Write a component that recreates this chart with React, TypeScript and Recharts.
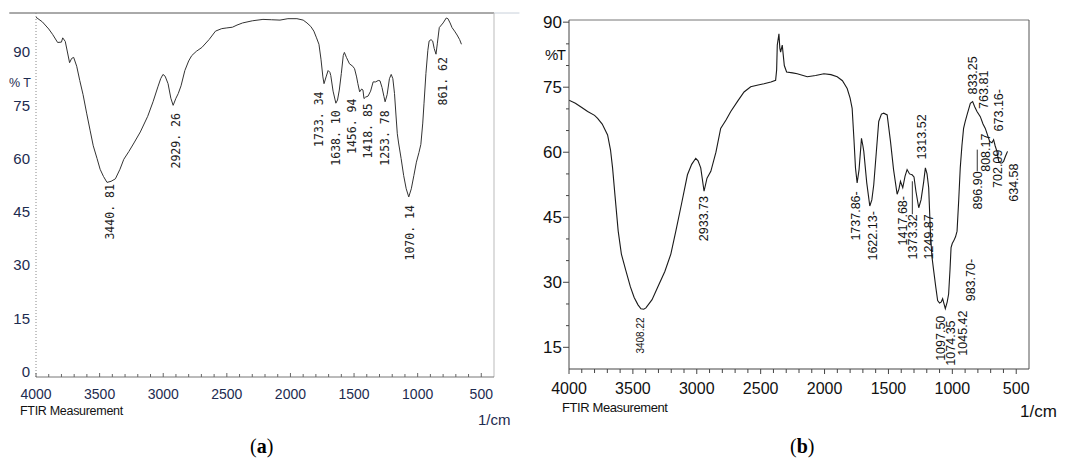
import { ComposedChart, Line, Scatter, XAxis, YAxis, ReferenceLine } from "recharts";

// ---------- spectrum (a) ----------
const waveA = [
  4000, 3950, 3900, 3870, 3830, 3800, 3790, 3770, 3736, 3720, 3704, 3680, 3656, 3630, 3602, 3575, 3550, 3520,
  3496, 3470, 3442, 3410, 3376, 3340, 3310, 3270, 3230, 3180, 3122, 3080, 3042, 3020, 3002, 2985, 2962, 2940,
  2922, 2900, 2882, 2860, 2830, 2800, 2776, 2740, 2696, 2640, 2589, 2540, 2500, 2456, 2420, 2376, 2300, 2216,
  2150, 2082, 2020, 1949, 1900, 1870, 1840, 1816, 1795, 1776, 1760, 1745, 1736, 1720, 1704, 1690, 1683, 1665,
  1643, 1630, 1616, 1600, 1585, 1576, 1560, 1536, 1510, 1496, 1480, 1470, 1456, 1440, 1430, 1422, 1410, 1390,
  1370, 1350, 1330, 1310, 1296, 1280, 1265, 1256, 1240, 1222, 1208, 1195, 1182, 1170, 1160, 1150, 1130, 1110,
  1090, 1070, 1050, 1030, 1010, 990, 975, 960, 950, 935, 920, 910, 895, 882, 870, 856, 845, 830, 800, 775, 762,
  745, 730, 710, 690, 670, 656,
];
const transA = [
  99.8, 98.5, 96.5, 95, 92.7, 92.8, 94, 93, 87, 88.2, 88.5, 86, 82, 78, 72.8, 68, 63.6, 60,
  57, 55, 53.3, 53.6, 54.3, 57, 59.8, 62, 64.4, 67.5, 71.9, 76, 80.2, 82.5, 83.7, 83.2, 81.1, 77,
  75, 77, 78.3, 80.5, 84.8, 87.5, 89, 90.2, 91.3, 93.5, 95.9, 96.6, 96.8, 97, 97.6, 98.2, 98.8, 99.2,
  99.1, 99, 99.4, 99.4, 99, 98.2, 97.2, 95.9, 94, 92.2, 88, 83, 81.1, 83, 84.8, 84.3, 83.4, 79,
  75.6, 76.5, 79.3, 84, 89, 89.9, 88.5, 86.7, 86, 85.3, 83, 81.1, 78.8, 79.6, 79.3, 76.9, 77.3, 77.6,
  79, 81.6, 81.6, 82, 81.9, 80, 77.5, 76, 78, 82.5, 83.7, 82.5, 78.3, 72, 67, 64.4, 60, 55.2,
  51.5, 49.2, 51.5, 55.2, 59, 61.7, 64, 70, 75.6, 84, 90.5, 93.1, 93.5, 93.1, 91, 89.4, 92.5, 96.9, 98.2, 99.6, 99.4,
  98.2, 96.9, 95.9, 94.8, 93.5, 92.2,
];
const peakTextA = ["3440. 81", "2929. 26", "1733. 34", "1638. 10", "1456. 94", "1418. 85", "1253. 78", "1070. 14", "861. 62"];
const peakWaveA = [3416, 2896, 1776, 1645, 1520, 1388, 1258, 1064, 800];
const peakTransA = [52.8, 72.8, 78.9, 73.6, 76.9, 75.6, 73.6, 46.9, 88.6];

// ---------- spectrum (b) ----------
const waveB = [
  4000, 3950, 3900, 3854, 3800, 3776, 3740, 3698, 3675, 3659, 3640, 3615, 3590, 3555, 3520, 3490, 3460, 3437,
  3415, 3398, 3350, 3307, 3250, 3203, 3164, 3120, 3073, 3040, 3008, 2990, 2969, 2943, 2920, 2890, 2850, 2813,
  2770, 2734, 2680, 2630, 2578, 2520, 2474, 2420, 2383, 2375, 2370, 2357, 2350, 2344, 2331, 2315, 2297, 2250,
  2214, 2135, 2070, 2005, 1950, 1901, 1860, 1823, 1800, 1784, 1770, 1758, 1745, 1730, 1711, 1700, 1693, 1670,
  1646, 1630, 1615, 1595, 1576, 1555, 1537, 1510, 1484, 1460, 1432, 1418, 1406, 1388, 1370, 1354, 1335, 1315,
  1300, 1285, 1263, 1245, 1225, 1211, 1198, 1185, 1172, 1160, 1146, 1130, 1115, 1100, 1088, 1076, 1065, 1055,
  1040, 1029, 1018, 1010, 1000, 990, 975, 963, 950, 938, 925, 912, 900, 885, 859, 841, 825, 807, 781, 760, 742,
  725, 708, 690, 677, 665, 651, 638, 625, 612, 599, 585, 568,
];
const transB = [
  72, 71.3, 70.3, 69.4, 68.5, 67.8, 66.5, 64, 60.5, 56.4, 50, 41.8, 36.5, 32.7, 29, 26.5, 24.8, 23.9,
  23.8, 24.1, 26, 28.8, 32.5, 36.5, 41.8, 48, 54.8, 57.2, 58.6, 58, 56.4, 51, 54, 55.6, 60, 65.5,
  67.5, 69.4, 71.8, 73.9, 75.1, 75.5, 75.8, 76.2, 76.6, 79, 84.7, 87.3, 84, 83.1, 84.7, 80, 78.5, 78.3,
  78.1, 77.4, 77.7, 78.1, 77.9, 77.4, 76.5, 74.7, 72.5, 70.1, 63, 56.4, 52.9, 56, 63.2, 61.5, 60.2, 53,
  47.6, 49, 52.5, 60, 67.1, 68.8, 69, 68.6, 62.5, 56, 50.3, 51.5, 53.3, 51.8, 54.5, 56, 55, 54.8,
  54.3, 51, 47.2, 49, 53, 56.4, 55, 51.8, 41.8, 36, 32.7, 29, 25.8, 25.2, 25.4, 26.2, 25, 23.9,
  25.5, 27.3, 33, 38, 39, 39.5, 40.5, 41.8, 49, 56.4, 61.5, 65.5, 67, 68.6, 71.3, 71.7, 70.5, 69.4, 68.2, 66.5, 65.5,
  64, 62.5, 62.2, 62.9, 61.5, 60.2, 58, 57.5, 57.5, 57.9, 59, 60.2,
];
const peakTextB = [
  "3408.22", "2933.73", "1737.86-", "1622.13-", "1417.68-", "1373.32", "1313.52", "1249.87", "1097.50",
  "1074.35", "1045.42", "983.70-", "896.90", "808.17", "702.09", "634.58", "833.25", "763.81", "673.16-",
];
const peakWaveB = [3437, 2945, 1758, 1625, 1391, 1313, 1242, 1187, 1094, 1016, 922, 859, 805, 742, 648, 523, 844, 758, 641];
const peakTransB = [21.9, 49.9, 51, 46.4, 49.9, 45.7, 58.3, 45.7, 22.3, 21.2, 23.5, 35.4, 55.6, 64.3, 60.6, 57.4, 73.3, 70, 64.8];
const peakUpB = [false, false, false, false, false, false, true, false, false, false, false, false, false, false, false, false, true, true, true];
// leader lines: [wave, from T, to T]
const leadersB = [
  [1313, 45.7, 53.3],
  [805, 55.6, 60.6],
];

const xMajor = [4000, 3500, 3000, 2500, 2000, 1500, 1000, 500];
const xTicks = xMajor.flatMap((v) => (v > 500 ? [v, v - 100, v - 200, v - 300, v - 400] : [v]));
const yTicksA = [0, 15, 30, 45, 60, 75, 90];
const yTicksB = [15, 20, 25, 30, 35, 40, 45, 50, 55, 60, 65, 70, 75, 80, 85, 90];

const specA = waveA.map((wn, i) => ({ wn, t: transA[i] }));
const specB = waveB.map((wn, i) => ({ wn, t: transB[i] }));
const peaksA = peakTextA.map((text, i) => ({ wn: peakWaveA[i], t: peakTransA[i], text, up: false }));
const peaksB = peakTextB.map((text, i) => ({ wn: peakWaveB[i], t: peakTransB[i], text, up: peakUpB[i] }));

const SANS = "'Liberation Sans', Arial, sans-serif";
const NAVY = "#1d2b4f";

function TickA(props: any) {
  const { x, y, payload } = props;
  const major = payload.value % 500 === 0;
  return (
    <g>
      <line x1={x} x2={x} y1={y - (major ? 4 : 3)} y2={y} stroke="#666" />
      {major && (
        <text x={x} y={y + 22} textAnchor="middle" fontSize={14} fontFamily={SANS} fill={NAVY}>
          {payload.value}
        </text>
      )}
    </g>
  );
}

function TickBx(props: any) {
  const { x, y, payload } = props;
  const major = payload.value % 500 === 0;
  return (
    <g>
      <line x1={x} x2={x} y1={y} y2={y + (major ? 5 : 4)} stroke="#444" />
      {major && (
        <text x={x} y={y + 25} textAnchor="middle" fontSize={16} fontFamily={SANS} fill="#111">
          {payload.value}
        </text>
      )}
    </g>
  );
}

function TickBy(props: any) {
  const { x, y, payload } = props;
  const major = payload.value % 15 === 0;
  return (
    <g>
      <line x1={x - (major ? 6 : 3)} x2={x} y1={y} y2={y} stroke="#444" />
      {major && (
        <text x={x - 7} y={y} dy="0.35em" textAnchor="end" fontSize={17} fontFamily={SANS} fill="#111">
          {payload.value}
        </text>
      )}
    </g>
  );
}

function labelShape(font: string, size: number, color: string) {
  return (props: any) => {
    const { cx, cy, payload } = props;
    const small = payload.text === "3408.22";
    return (
      <text
        x={cx}
        y={cy}
        dy="0.35em"
        transform={`rotate(-90 ${cx} ${cy})`}
        textAnchor={payload.up ? "start" : "end"}
        fontSize={small ? size - 2.5 : size}
        fontFamily={font}
        fill={color}
      >
        {payload.text}
      </text>
    );
  };
}

const abs = (left: number, top: number, extra: any = {}) => ({
  position: "absolute" as const,
  left,
  top,
  lineHeight: 1,
  whiteSpace: "nowrap" as const,
  ...extra,
});

export default function App() {
  return (
    <div style={{ position: "absolute", left: 0, top: 0, width: 1065, height: 461, background: "#fff", overflow: "hidden" }}>
      {/* (a) */}
      <div style={{ position: "absolute", left: 0, top: 0 }}>
        <ComposedChart width={530} height={420} margin={{ top: 13, right: 36, bottom: 0, left: 0 }}>
          <XAxis
            type="number"
            dataKey="wn"
            domain={[400, 4000]}
            reversed
            allowDataOverflow
            ticks={xTicks}
            interval={0}
            tick={<TickA />}
            tickLine={false}
            tickSize={0}
            tickMargin={0}
            height={43}
            axisLine={{ stroke: "#777" }}
          />
          <YAxis
            type="number"
            domain={[-1.5, 101]}
            allowDataOverflow
            ticks={yTicksA}
            interval={0}
            width={36}
            tickLine={false}
            tickSize={0}
            tickMargin={6}
            tick={{ fontSize: 15, fontFamily: SANS, fill: NAVY }}
            axisLine={{ stroke: "#888", strokeDasharray: "1 2" }}
          />
          <ReferenceLine
            segment={[{ x: 4210, y: 101 }, { x: 400, y: 101 }]}
            stroke="#555"
            ifOverflow="visible"
          />
          <ReferenceLine
            segment={[{ x: 400, y: 101 }, { x: 200, y: 101 }]}
            stroke="#c8d0da"
            ifOverflow="visible"
          />
          <ReferenceLine x={400} stroke="#bbb" />
          <Line data={specA} dataKey="t" stroke="#333" strokeWidth={1} dot={false} isAnimationActive={false} />
          <Scatter data={peaksA} dataKey="t" isAnimationActive={false} shape={labelShape("'DejaVu Sans Mono', monospace", 11.5, "#222")} />
        </ComposedChart>
      </div>

      {/* (b) */}
      <div style={{ position: "absolute", left: 530, top: 0 }}>
        <ComposedChart width={535} height={414} margin={{ top: 20, right: 36, bottom: 0, left: 0 }}>
          <XAxis
            type="number"
            dataKey="wn"
            domain={[400, 4000]}
            reversed
            allowDataOverflow
            ticks={xTicks}
            interval={0}
            tick={<TickBx />}
            tickLine={false}
            tickSize={0}
            tickMargin={0}
            height={45}
            axisLine={{ stroke: "#444" }}
          />
          <YAxis
            type="number"
            domain={[10, 90.5]}
            allowDataOverflow
            ticks={yTicksB}
            interval={0}
            width={39}
            tickLine={false}
            tickSize={0}
            tickMargin={0}
            tick={<TickBy />}
            axisLine={{ stroke: "#444" }}
          />
          <ReferenceLine y={90.5} stroke="#777" />
          <ReferenceLine x={400} stroke="#555" />
          {leadersB.map(([wn, a, b], i) => (
            <ReferenceLine key={i} segment={[{ x: wn, y: a }, { x: wn, y: b }]} stroke="#333" />
          ))}
          <Line data={specB} dataKey="t" stroke="#1a1a1a" strokeWidth={1.1} dot={false} isAnimationActive={false} />
          <Scatter data={peaksB} dataKey="t" isAnimationActive={false} shape={labelShape(SANS, 12.5, "#111")} />
        </ComposedChart>
      </div>

      {/* axis captions */}
      <div style={abs(9, 77, { fontFamily: SANS, fontSize: 12.5, color: NAVY })}>% T</div>
      <div style={abs(20, 405, { fontFamily: SANS, fontSize: 12.5, color: "#111", letterSpacing: -0.3 })}>FTIR Measurement</div>
      <div style={abs(478, 412, { fontFamily: SANS, fontSize: 15, color: NAVY })}>1/cm</div>
      <div style={abs(545, 47, { fontFamily: SANS, fontSize: 15, color: "#111", letterSpacing: -1.5 })}>%T</div>
      <div style={abs(562, 401, { fontFamily: SANS, fontSize: 13, color: "#111", letterSpacing: -0.4 })}>FTIR Measurement</div>
      <div style={abs(1020, 403, { fontFamily: SANS, fontSize: 17, color: "#111" })}>1/cm</div>

      {/* panel letters */}
      <div style={abs(250, 436, { fontFamily: "'Liberation Serif', serif", fontSize: 20, color: "#000" })}>
        (<b>a</b>)
      </div>
      <div style={abs(790, 436, { fontFamily: "'Liberation Serif', serif", fontSize: 20, color: "#000" })}>
        (<b>b</b>)
      </div>
    </div>
  );
}
